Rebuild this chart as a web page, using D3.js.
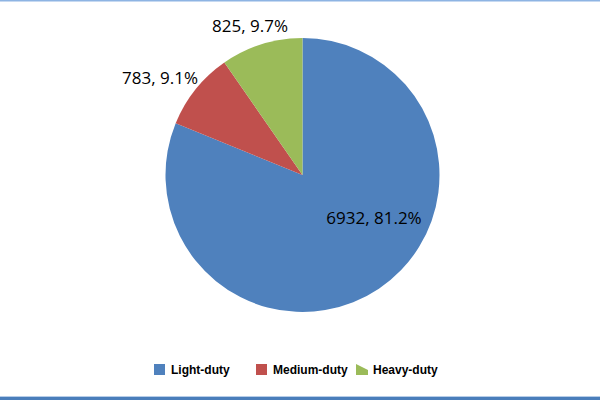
<!DOCTYPE html>
<html><head><meta charset="utf-8">
<script src="https://cdn.jsdelivr.net/npm/d3@7/dist/d3.min.js"></script>
<style>html,body{margin:0;padding:0;background:#fff;}svg{display:block;}</style>
</head><body>
<svg id="c" width="600" height="400"></svg>
<script>
const categories = ["Light-duty", "Medium-duty", "Heavy-duty"];
const values = [6932, 783, 825];
const percents = ["81.2%", "9.1%", "9.7%"];
const colors = ["#4f81bd", "#c0504d", "#9bbb59"];

const svg = d3.select("#c");
// borders
svg.append("rect").attr("x",0).attr("y",0).attr("width",600).attr("height",1.5).attr("fill","#8eb4e3");
svg.append("rect").attr("x",0).attr("y",396).attr("width",600).attr("height",1).attr("fill","#b7cde8");
svg.append("rect").attr("x",0).attr("y",397).attr("width",600).attr("height",3).attr("fill","#4a7ebb");

const cx = 302.5, cy = 175, r = 137;
const pie = d3.pie().sort(null).value(d => d)(values);
const arc = d3.arc().innerRadius(0).outerRadius(r);
const g = svg.append("g").attr("transform", `translate(${cx},${cy})`);
g.selectAll("path").data(pie).enter().append("path")
  .attr("d", arc).attr("fill", (d,i) => colors[i]);

// labels
const labelPos = [[374, 224], [160, 84], [250, 32]];
svg.selectAll("text.lbl").data(pie).enter().append("text")
  .attr("class","lbl")
  .attr("x", (d,i) => labelPos[i][0]).attr("y", (d,i) => labelPos[i][1])
  .attr("text-anchor","middle")
  .attr("font-family","'Open Sans', 'Noto Sans', sans-serif")
  .attr("font-size", 17)
  .attr("fill","#000")
  .text((d,i) => `${values[i]}, ${percents[i]}`);

// legend
const lx = [154, 256, 356];
const lg = svg.append("g");
categories.forEach((c,i) => {
  if (i < 2) {
    lg.append("rect").attr("x", lx[i]).attr("y", 364).attr("width", 11).attr("height", 11).attr("fill", colors[i]);
  } else {
    lg.append("path").attr("d", `M${lx[i]},364 L${lx[i]+12},370 L${lx[i]+12},375 L${lx[i]},375 Z`).attr("fill", colors[i]);
  }
  lg.append("text").attr("x", lx[i] + 17).attr("y", 373.5)
    .attr("font-family","'Liberation Sans', Arial, sans-serif")
    .attr("font-weight","bold").attr("font-size", 12).attr("fill","#000")
    .text(c);
});
</script>
</body></html>
